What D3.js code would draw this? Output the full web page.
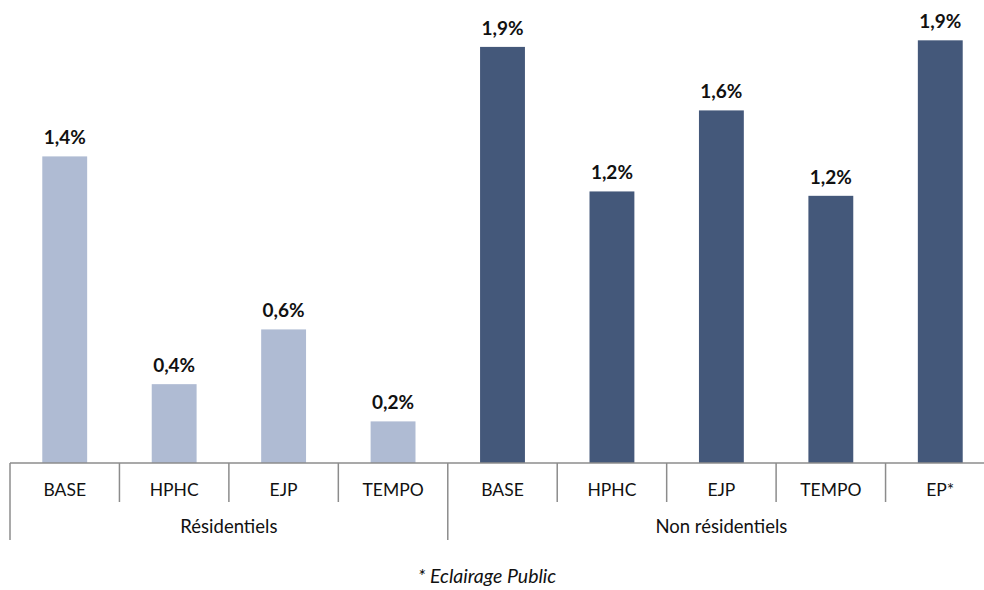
<!DOCTYPE html>
<html>
<head>
<meta charset="utf-8">
<script src="https://cdn.jsdelivr.net/npm/d3@7"></script>
<style>
  body { margin: 0; background: #fff; }
  text { font-family: Lato, "Open Sans", sans-serif; fill: #111; }
</style>
</head>
<body>
<svg id="chart" width="984" height="590"></svg>
<script>
// categories and values (in %)
var categories = ["BASE", "HPHC", "EJP", "TEMPO", "BASE", "HPHC", "EJP", "TEMPO", "EP*"];
var groups = ["Résidentiels", "Résidentiels", "Résidentiels", "Résidentiels",
              "Non résidentiels", "Non résidentiels", "Non résidentiels", "Non résidentiels", "Non résidentiels"];
var values = [1.40, 0.36, 0.61, 0.19, 1.90, 1.24, 1.61, 1.22, 1.93];
var groupNames = ["Résidentiels", "Non résidentiels"];
var groupColors = {"Résidentiels": "#afbbd3", "Non résidentiels": "#44587a"};

var svg = d3.select("#chart");
var baseY = 463;
var left = 10, right = 995;

var idx = d3.range(categories.length);
var x = d3.scaleBand().domain(idx).range([left, right]).paddingInner(0.59).paddingOuter(0.295);
var slot = d3.scaleBand().domain(idx).range([left, right]);
var y = d3.scaleLinear().domain([0, 2]).range([baseY, 25]);

var fr = d3.formatLocale({decimal: ",", thousands: " ", grouping: [3], currency: ["", "€"]});
var fmt = fr.format(".1f");

// bars
svg.selectAll("rect.bar").data(idx).enter().append("rect")
  .attr("x", function(i) { return x(i); })
  .attr("y", function(i) { return y(values[i]); })
  .attr("width", x.bandwidth())
  .attr("height", function(i) { return baseY - y(values[i]); })
  .attr("fill", function(i) { return groupColors[groups[i]]; });

// value labels
svg.selectAll("text.val").data(idx).enter().append("text")
  .attr("x", function(i) { return x(i) + x.bandwidth() / 2; })
  .attr("y", function(i) { return y(values[i]) - 12; })
  .attr("text-anchor", "middle")
  .style("font-size", "19px")
  .style("font-weight", "bold")
  .text(function(i) { return fmt(values[i]) + "%"; });

// axis line
var axisColor = "#8c8c8c";
svg.append("line").attr("x1", left).attr("x2", 984).attr("y1", baseY).attr("y2", baseY)
  .attr("stroke", axisColor).attr("stroke-width", 1.5);

// category dividers
idx.forEach(function(i) {
  var first = i === 0 || groups[i] !== groups[i - 1];
  svg.append("line").attr("x1", slot(i)).attr("x2", slot(i))
    .attr("y1", baseY).attr("y2", first ? 540 : 502)
    .attr("stroke", axisColor).attr("stroke-width", 1.5);
});

// category labels
svg.selectAll("text.cat").data(idx).enter().append("text")
  .attr("x", function(i) { return slot(i) + slot.bandwidth() / 2; })
  .attr("y", 496)
  .attr("text-anchor", "middle")
  .style("font-size", "17.5px")
  .text(function(i) { return categories[i]; });

// group labels
groupNames.forEach(function(g) {
  var members = idx.filter(function(i) { return groups[i] === g; });
  var x0 = slot(members[0]);
  var x1 = slot(members[members.length - 1]) + slot.bandwidth();
  svg.append("text")
    .attr("x", (x0 + x1) / 2)
    .attr("y", 533)
    .attr("text-anchor", "middle")
    .style("font-size", "18.5px")
    .text(g);
});

// footnote
svg.append("text")
  .attr("x", 487).attr("y", 583)
  .attr("text-anchor", "middle")
  .style("font-size", "19.5px")
  .style("font-style", "italic")
  .text("* Eclairage Public");
</script>
</body>
</html>
